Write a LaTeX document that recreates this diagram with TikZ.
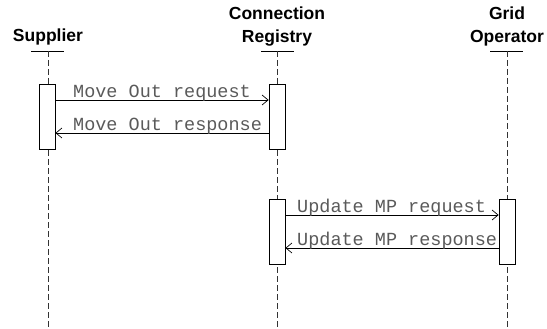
\documentclass[tikz,border=0pt]{standalone}
\usepackage{fontspec}
\setsansfont{Liberation Sans}
\setmonofont{Liberation Mono}
\usetikzlibrary{arrows.meta}
\definecolor{msgtext}{HTML}{5A5A5A}
\definecolor{lifegray}{HTML}{333333}
\begin{document}
\begin{tikzpicture}[x=1pt,y=-1pt,
  actor/.style={font=\sffamily\bfseries\fontsize{17.5}{22.5}\selectfont, align=center, inner sep=0pt, anchor=base},
  headline/.style={line width=0.9pt},
  lifeline/.style={draw=lifegray, dash pattern=on 6pt off 3pt, line width=0.7pt},
  activation/.style={draw, fill=white, line width=0.8pt, minimum width=16pt, inner sep=0pt},
  msg/.style={line width=0.7pt, -{Straight Barb[length=6pt,width=10pt,line width=0.7pt]}},
  msglabel/.style={font=\ttfamily\fontsize{18.5}{20}\selectfont, text=msgtext, inner sep=0pt, anchor=base west}
]
\useasboundingbox (0,0) rectangle (547,329);

% participants (anchored at the baseline of their last line)
\node[actor] (sup) at (48,41.5) {Supplier};
\node[actor] (reg) at (277,42.5) {Connection\\Registry};
\node[actor] (grid) at (507,42.5) {Grid\\Operator};

% header underlines
\coordinate (supL) at (31,51);  \coordinate (supR) at (64,51);
\coordinate (regL) at (261,51); \coordinate (regR) at (294,51);
\coordinate (gridL) at (490,51); \coordinate (gridR) at (523,51);
\draw[headline] (supL) -- (supR);
\draw[headline] (regL) -- (regR);
\draw[headline] (gridL) -- (gridR);

% lifeline ends
\coordinate (supTop) at (48,51);   \coordinate (supBot) at (48,329);
\coordinate (regTop) at (277,51);  \coordinate (regBot) at (277,329);
\coordinate (gridTop) at (507,51); \coordinate (gridBot) at (507,329);
\draw[lifeline] (supTop) -- (supBot);
\draw[lifeline] (regTop) -- (regBot);
\draw[lifeline] (gridTop) -- (gridBot);

% activation bars
\node[activation, minimum height=65pt] (supAct) at (47,116.5) {};
\node[activation, minimum height=65pt] (regAct1) at (277,116.5) {};
\node[activation, minimum height=65pt] (regAct2) at (277,231.5) {};
\node[activation, minimum height=65pt] (gridAct) at (507,231.5) {};

% messages
\coordinate (m1s) at (supAct.east |- 0,100);
\coordinate (m1e) at (regAct1.west |- 0,100);
\draw[msg] (m1s) -- (m1e);
\node[msglabel] (l1) at (73,97.5) {Move Out request};

\coordinate (m2s) at (regAct1.west |- 0,133);
\coordinate (m2e) at (supAct.east |- 0,133);
\draw[msg] (m2s) -- (m2e);
\node[msglabel] (l2) at (73,130.5) {Move Out response};

\coordinate (m3s) at (regAct2.east |- 0,215);
\coordinate (m3e) at (gridAct.west |- 0,215);
\draw[msg] (m3s) -- (m3e);
\node[msglabel] (l3) at (297,212.5) {Update MP request};

\coordinate (m4s) at (gridAct.west |- 0,248);
\coordinate (m4e) at (regAct2.east |- 0,248);
\draw[msg] (m4s) -- (m4e);
\node[msglabel] (l4) at (297,245.5) {Update MP response};
\end{tikzpicture}
\end{document}
